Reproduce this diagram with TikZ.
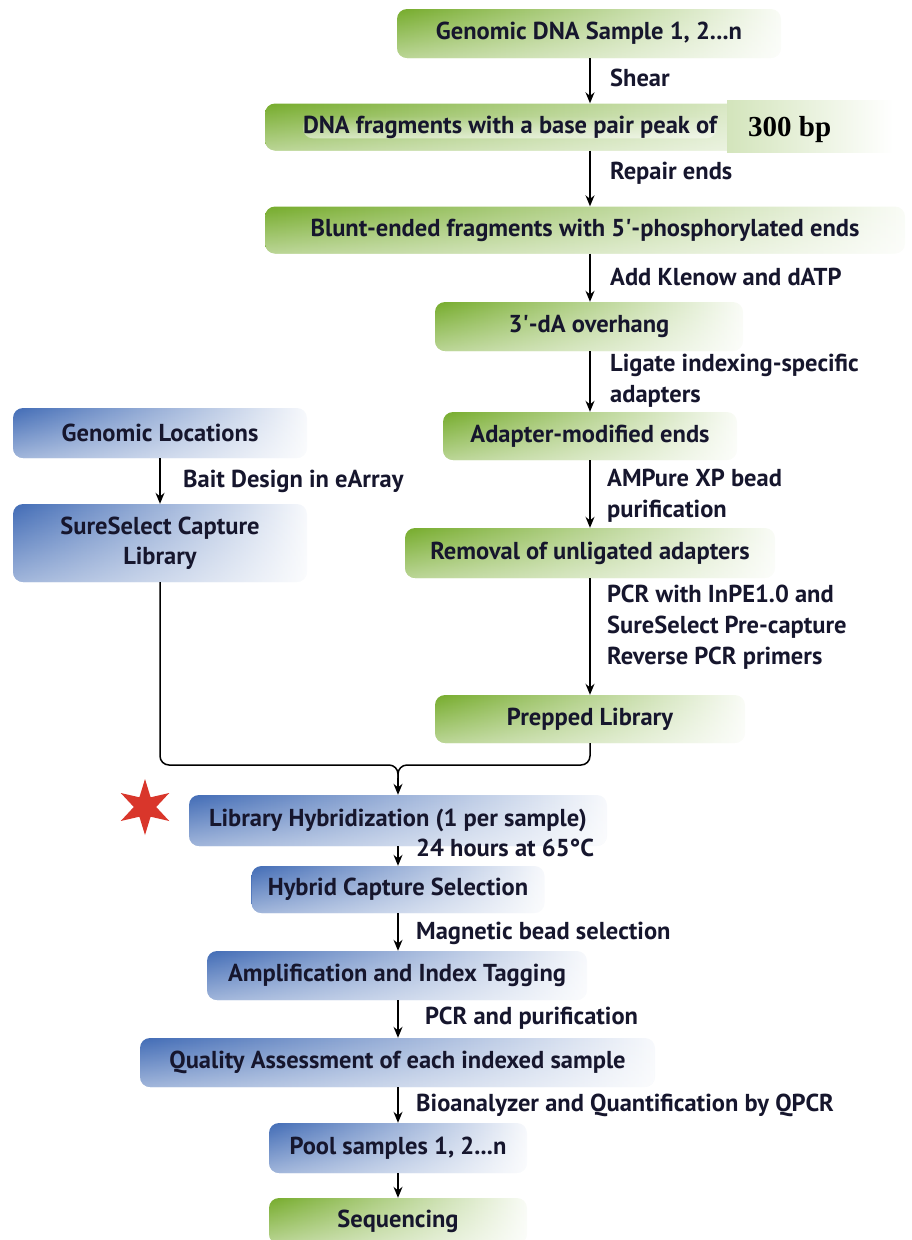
\documentclass[tikz,border=0pt]{standalone}
\usepackage{fontspec}
\setmainfont{PT Sans}
\newfontfamily\bpfont{Liberation Serif}
\usetikzlibrary{shapes.geometric,fadings,calc,arrows.meta}
\definecolor{gr}{RGB}{118,172,44}
\definecolor{bl}{RGB}{66,108,182}
\definecolor{txt}{RGB}{22,22,45}
\definecolor{starred}{RGB}{217,54,43}
\begin{document}
\begin{tikzpicture}[x=1pt,y=-1pt,
 box/.style={rounded corners=10, inner sep=0, font=\bfseries\fontsize{24.5}{28}\selectfont, text=txt, align=center,
   postaction={fill=white, path fading=north, fill opacity=0.5}},
 gbox/.style={box, left color=gr, right color=gr!4},
 bbox/.style={box, left color=bl, right color=bl!4},
 lab/.style={anchor=west, align=left, font=\bfseries\fontsize{24.5}{31}\selectfont, text=txt, inner sep=0},
 arr/.style={-{Stealth[length=11,width=9]}, line width=1.5, black},
 ln/.style={line width=1.5, black}]
\useasboundingbox (0,0) rectangle (911,1240);
\coordinate (sp) at (590,0);
\coordinate (lsp) at (398,0);
% green column
\node[gbox, minimum width=384, minimum height=49] (g1) at (589,33.5) {Genomic DNA Sample 1, 2...n};
\node[gbox, minimum width=620, minimum height=47] (g2) at (575,127) {};
\node[box, anchor=west, postaction={}] (g2t) at ($(g2.west)+(38,0)$) {DNA fragments with a base pair peak of};
\node[anchor=west, minimum width=166, minimum height=52, inner sep=0, left color=gr!32, right color=white] (bp) at (727,126) {};
\node[anchor=west, inner sep=0, font=\bpfont\bfseries\fontsize{29}{32}\selectfont, text=black] (bpt) at (748,130) {300 bp};
\node[gbox, minimum width=640, minimum height=47] (g3) at (585,230) {Blunt-ended fragments with 5\textquotesingle-phosphorylated ends};
\node[gbox, minimum width=308, minimum height=49] (g4) at (589,326.5) {3\textquotesingle-dA overhang};
\node[gbox, minimum width=294, minimum height=48] (g5) at (590,436) {Adapter-modified ends};
\node[gbox, minimum width=370, minimum height=50] (g6) at (590,553) {Removal of unligated adapters};
\node[gbox, minimum width=310, minimum height=48] (g7) at (590,719) {Prepped Library};
% blue left column
\node[bbox, minimum width=294, minimum height=78, font=\bfseries\fontsize{24.5}{30}\selectfont] (b2) at (160,543) {SureSelect Capture\\Library};
\node[bbox, minimum width=294, minimum height=50] (b1) at (160,433) {Genomic Locations};
% lower column
\node[bbox, minimum width=418, minimum height=51] (lh) at (398,820.5) {Library Hybridization (1 per sample)};
\node[bbox, minimum width=293, minimum height=47] (hc) at (398,889.5) {Hybrid Capture Selection};
\node[bbox, minimum width=380, minimum height=49] (am) at (397,975.5) {Amplification and Index Tagging};
\node[bbox, minimum width=515, minimum height=49] (qa) at (397.5,1062.5) {Quality Assessment of each indexed sample};
\node[bbox, minimum width=258, minimum height=50] (ps) at (398,1148) {Pool samples 1, 2...n};
\node[gbox, minimum width=258, minimum height=46] (sq) at (398,1221) {Sequencing};
% star
\node[star, star points=6, star point ratio=2.5, minimum size=56, inner sep=0, fill=starred] (st) at (145,807) {};
% arrows main spine
\draw[arr] (g1.south -| sp) -- (g2.north -| sp);
\draw[arr] (g2.south -| sp) -- (g3.north -| sp);
\draw[arr] (g3.south -| sp) -- (g4.north -| sp);
\draw[arr] (g4.south -| sp) -- (g5.north -| sp);
\draw[arr] (g5.south -| sp) -- (g6.north -| sp);
\draw[arr] (g6.south -| sp) -- (g7.north -| sp);
\draw[arr] (b1.south) -- (b2.north);
% merge
\coordinate (m) at (398,765);
\coordinate (m2) at (398,778);
\draw[ln, rounded corners=9] (b2.south) |- (m) -- (m2);
\draw[ln, rounded corners=9] (g7.south -| sp) |- (m) -- (m2);
\draw[arr] (m2) -- (lh.north -| m);
% lower spine
\draw[arr] (lh.south -| lsp) -- (hc.north -| lsp);
\draw[arr] (hc.south -| lsp) -- (am.north -| lsp);
\draw[arr] (am.south -| lsp) -- (qa.north -| lsp);
\draw[arr] (qa.south -| lsp) -- (ps.north -| lsp);
\draw[arr] (ps.south -| lsp) -- (sq.north -| lsp);
% labels
\node[lab] (l1) at (610,78) {Shear};
\node[lab] (l2) at (610,173) {Repair ends};
\node[lab] (l3) at (610,277) {Add Klenow and dATP};
\node[lab] (l4) at (610,381) {Ligate indexing-specific\\adapters};
\node[lab] (l5) at (607,496) {AMPure XP bead\\purification};
\node[lab] (l6) at (607,627) {PCR with InPE1.0 and\\SureSelect Pre-capture\\Reverse PCR primers};
\node[lab] (l7) at (183,481) {Bait Design in eArray};
\node[lab] (l8) at (416,848) {24 hours at 65°C};
\node[lab] (l9) at (416,933) {Magnetic bead selection};
\node[lab] (l10) at (425,1018) {PCR and purification};
\node[lab] (l11) at (416,1105) {Bioanalyzer and Quantification by QPCR};
\end{tikzpicture}
\end{document}
